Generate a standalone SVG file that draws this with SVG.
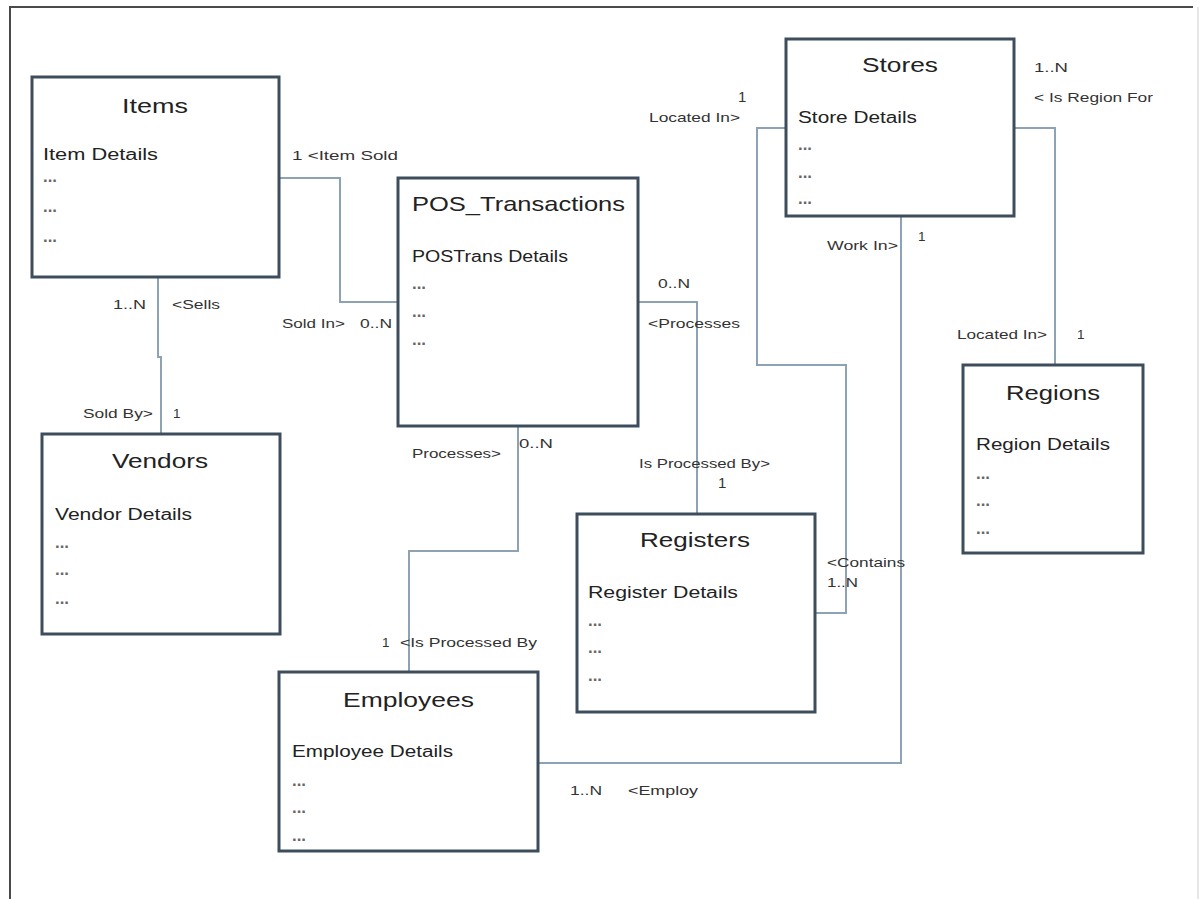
<svg xmlns="http://www.w3.org/2000/svg" width="1201" height="899" viewBox="0 0 1201 899">
<style>
.box{fill:#fff;stroke:#3d4d5c;stroke-width:3}
.conn{fill:none;stroke:#8da2b2;stroke-width:2}
text{font-family:"Liberation Sans",Arial,sans-serif;fill:#222}
.t{font-size:21px}
.d{font-size:16px}
.dots{font-size:16px;font-weight:bold;fill:#666}
.l{font-size:13.5px;fill:#333}
</style>
<rect x="0" y="0" width="1201" height="899" fill="#fff"/>
<g id="frame">
<path d="M10,899 V7 H1193" fill="none" stroke="#4a4a4a" stroke-width="2"/>
<line x1="1198" y1="7" x2="1198" y2="899" stroke="#cfcfcf" stroke-width="1"/>
</g>
<g id="connectors">
<path class="conn" d="M279,178 H340 V302 H398"/>
<path class="conn" d="M158,277 V357 H161 V434"/>
<path class="conn" d="M638,302 H697 V514"/>
<path class="conn" d="M518,426 V551 H409 V672"/>
<path class="conn" d="M786,128 H757 V365 H846 V613 H815"/>
<path class="conn" d="M1014,128 H1055 V365"/>
<path class="conn" d="M901,216 V763 H538"/>
</g>
<g id="labels">
<text class="l" x="292" y="160" textLength="106" lengthAdjust="spacingAndGlyphs">1  &lt;Item Sold</text>
<text class="l" x="113" y="309" textLength="33" lengthAdjust="spacingAndGlyphs">1..N</text>
<text class="l" x="172" y="309" textLength="48" lengthAdjust="spacingAndGlyphs">&lt;Sells</text>
<text class="l" x="83" y="418" textLength="70" lengthAdjust="spacingAndGlyphs">Sold By&gt;</text>
<text class="l" x="173" y="418">1</text>
<text class="l" x="282" y="328" textLength="63" lengthAdjust="spacingAndGlyphs">Sold In&gt;</text>
<text class="l" x="360" y="328" textLength="32" lengthAdjust="spacingAndGlyphs">0..N</text>
<text class="l" x="658" y="288" textLength="32" lengthAdjust="spacingAndGlyphs">0..N</text>
<text class="l" x="648" y="328" textLength="92" lengthAdjust="spacingAndGlyphs">&lt;Processes</text>
<text class="l" x="412" y="458" textLength="89" lengthAdjust="spacingAndGlyphs">Processes&gt;</text>
<text class="l" x="519" y="448" textLength="34" lengthAdjust="spacingAndGlyphs">0..N</text>
<text class="l" x="639" y="468" textLength="131" lengthAdjust="spacingAndGlyphs">Is Processed By&gt;</text>
<text class="l" x="718" y="488" style="font-size:15px">1</text>
<text class="l" x="382" y="647">1</text>
<text class="l" x="400" y="647" textLength="137" lengthAdjust="spacingAndGlyphs">&lt;Is Processed By</text>
<text class="l" x="827" y="567" textLength="78" lengthAdjust="spacingAndGlyphs">&lt;Contains</text>
<text class="l" x="827" y="587" textLength="31" lengthAdjust="spacingAndGlyphs">1..N</text>
<text class="l" x="570" y="795" textLength="32" lengthAdjust="spacingAndGlyphs">1..N</text>
<text class="l" x="628" y="795" textLength="70" lengthAdjust="spacingAndGlyphs">&lt;Employ</text>
<text class="l" x="738" y="102" style="font-size:15px">1</text>
<text class="l" x="649" y="122" textLength="91" lengthAdjust="spacingAndGlyphs">Located In&gt;</text>
<text class="l" x="827" y="250" textLength="71" lengthAdjust="spacingAndGlyphs">Work In&gt;</text>
<text class="l" x="918" y="241">1</text>
<text class="l" x="1034" y="72" textLength="34" lengthAdjust="spacingAndGlyphs">1..N</text>
<text class="l" x="1034" y="102" textLength="119" lengthAdjust="spacingAndGlyphs">&lt; Is Region For</text>
<text class="l" x="957" y="339" textLength="90" lengthAdjust="spacingAndGlyphs">Located In&gt;</text>
<text class="l" x="1077" y="339">1</text>
</g>
<g id="items">
<rect class="box" x="32" y="77" width="247" height="200"/>
<text class="t" x="122" y="113" textLength="66" lengthAdjust="spacingAndGlyphs">Items</text>
<text class="d" x="43" y="160" textLength="115" lengthAdjust="spacingAndGlyphs">Item Details</text>
<text class="dots" x="43" y="182" textLength="14" lengthAdjust="spacingAndGlyphs">...</text>
<text class="dots" x="43" y="212" textLength="14" lengthAdjust="spacingAndGlyphs">...</text>
<text class="dots" x="43" y="242" textLength="14" lengthAdjust="spacingAndGlyphs">...</text>
</g>
<g id="vendors">
<rect class="box" x="42" y="434" width="238" height="200"/>
<text class="t" x="112" y="468" textLength="96" lengthAdjust="spacingAndGlyphs">Vendors</text>
<text class="d" x="55" y="520" textLength="137" lengthAdjust="spacingAndGlyphs">Vendor Details</text>
<text class="dots" x="55" y="548" textLength="14" lengthAdjust="spacingAndGlyphs">...</text>
<text class="dots" x="55" y="575" textLength="14" lengthAdjust="spacingAndGlyphs">...</text>
<text class="dots" x="55" y="604" textLength="14" lengthAdjust="spacingAndGlyphs">...</text>
</g>
<g id="pos_transactions">
<rect class="box" x="398" y="178" width="240" height="248"/>
<text class="t" x="412" y="211" textLength="213" lengthAdjust="spacingAndGlyphs">POS_Transactions</text>
<text class="d" x="412" y="262" textLength="156" lengthAdjust="spacingAndGlyphs">POSTrans Details</text>
<text class="dots" x="412" y="289" textLength="14" lengthAdjust="spacingAndGlyphs">...</text>
<text class="dots" x="412" y="317" textLength="14" lengthAdjust="spacingAndGlyphs">...</text>
<text class="dots" x="412" y="345" textLength="14" lengthAdjust="spacingAndGlyphs">...</text>
</g>
<g id="stores">
<rect class="box" x="786" y="39" width="228" height="177"/>
<text class="t" x="862" y="72" textLength="76" lengthAdjust="spacingAndGlyphs">Stores</text>
<text class="d" x="798" y="123" textLength="119" lengthAdjust="spacingAndGlyphs">Store Details</text>
<text class="dots" x="798" y="150" textLength="14" lengthAdjust="spacingAndGlyphs">...</text>
<text class="dots" x="798" y="178" textLength="14" lengthAdjust="spacingAndGlyphs">...</text>
<text class="dots" x="798" y="204" textLength="14" lengthAdjust="spacingAndGlyphs">...</text>
</g>
<g id="regions">
<rect class="box" x="963" y="365" width="180" height="188"/>
<text class="t" x="1006" y="400" textLength="94" lengthAdjust="spacingAndGlyphs">Regions</text>
<text class="d" x="976" y="450" textLength="134" lengthAdjust="spacingAndGlyphs">Region Details</text>
<text class="dots" x="976" y="479" textLength="14" lengthAdjust="spacingAndGlyphs">...</text>
<text class="dots" x="976" y="506" textLength="14" lengthAdjust="spacingAndGlyphs">...</text>
<text class="dots" x="976" y="534" textLength="14" lengthAdjust="spacingAndGlyphs">...</text>
</g>
<g id="registers">
<rect class="box" x="577" y="514" width="238" height="198"/>
<text class="t" x="640" y="547" textLength="110" lengthAdjust="spacingAndGlyphs">Registers</text>
<text class="d" x="588" y="598" textLength="150" lengthAdjust="spacingAndGlyphs">Register Details</text>
<text class="dots" x="588" y="626" textLength="14" lengthAdjust="spacingAndGlyphs">...</text>
<text class="dots" x="588" y="653" textLength="14" lengthAdjust="spacingAndGlyphs">...</text>
<text class="dots" x="588" y="681" textLength="14" lengthAdjust="spacingAndGlyphs">...</text>
</g>
<g id="employees">
<rect class="box" x="279" y="672" width="259" height="179"/>
<text class="t" x="343" y="707" textLength="131" lengthAdjust="spacingAndGlyphs">Employees</text>
<text class="d" x="292" y="757" textLength="161" lengthAdjust="spacingAndGlyphs">Employee Details</text>
<text class="dots" x="292" y="786" textLength="14" lengthAdjust="spacingAndGlyphs">...</text>
<text class="dots" x="292" y="813" textLength="14" lengthAdjust="spacingAndGlyphs">...</text>
<text class="dots" x="292" y="841" textLength="14" lengthAdjust="spacingAndGlyphs">...</text>
</g>
</svg>
